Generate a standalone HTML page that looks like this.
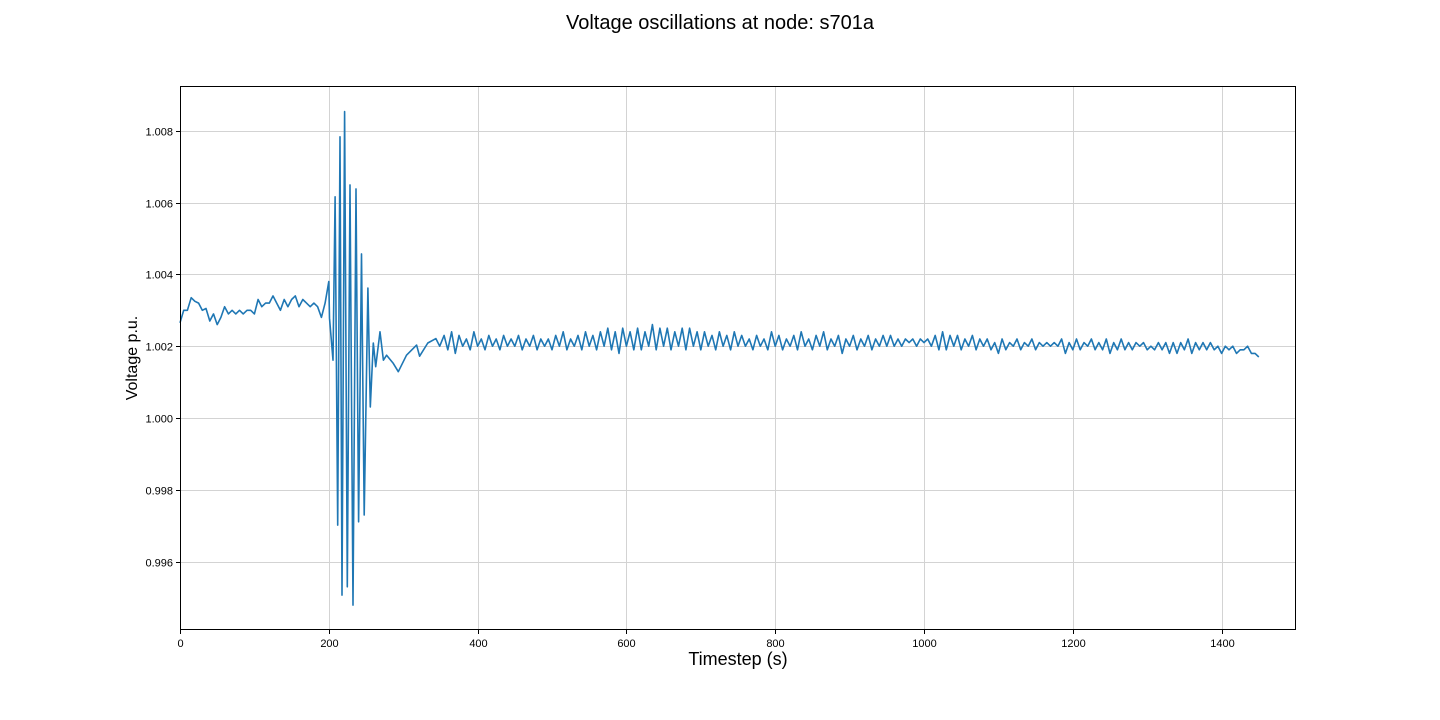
<!DOCTYPE html>
<html><head><meta charset="utf-8">
<style>
html,body{margin:0;padding:0;background:#fff;}
svg{display:block;font-family:"Liberation Sans","DejaVu Sans",sans-serif;}
</style></head>
<body>
<svg id="chart" width="1440" height="720" viewBox="0 0 1440 720" xmlns="http://www.w3.org/2000/svg">
<rect width="1440" height="720" fill="#fff"/>
<text x="720" y="29" text-anchor="middle" font-size="20">Voltage oscillations at node: s701a</text>
<g id="grid"></g>
<g id="xticks"></g>
<g id="yticks"></g>
<g id="series"></g>
<rect x="180.5" y="86.5" width="1115" height="543" fill="none" stroke="#000" stroke-width="1"/>
<text x="738" y="665" text-anchor="middle" font-size="18">Timestep (s)</text>
<text x="137" y="358" text-anchor="middle" font-size="16" transform="rotate(-90 137 358)">Voltage p.u.</text>
</svg>
<script>
const xTicks=[0,200,400,600,800,1000,1200,1400];
const yTicks=[0.996,0.998,1.000,1.002,1.004,1.006,1.008];
const preTimes=[0,5,10,15,20,25,30,35,40,45,50,55,60,65,70,75,80,85,90,95,100,105,110,115,120,125,130,135,140,145,150,155,160,165,170,175,180,185,190,195];
const preVolts=[1.00265,1.0030,1.0030,1.00335,1.00325,1.0032,1.0030,1.00305,1.0027,1.0029,1.0026,1.0028,1.0031,1.0029,1.0030,1.0029,1.0030,1.0029,1.0030,1.0030,1.0029,1.0033,1.0031,1.0032,1.0032,1.0034,1.0032,1.0030,1.0033,1.0031,1.0033,1.0034,1.0031,1.0033,1.0032,1.0031,1.0032,1.0031,1.0028,1.0032];
const eventTimes=[200,201,205.6,208.5,212,215,217.7,221.3,224.9,228.5,232.5,236.6,240,244,247.6,252.6,255.8,259.8,263,268.8,273.4,277.7,286.7,293.4,304.4,318,322,333,344,349];
const eventVolts=[1.0038,1.00278,1.00161,1.00616,0.99702,1.00783,0.99507,1.00853,0.9953,1.00649,0.99479,1.00638,0.99711,1.00457,0.9973,1.00362,1.00031,1.00209,1.00143,1.0024,1.00161,1.00175,1.00152,1.00129,1.00175,1.00203,1.00172,1.00209,1.00221,1.002];
const postStart=355, postStep=5;
const postVolts=[
1.0023,1.0019,1.0024,1.0018,1.0023,1.0020,1.0022,1.0019,1.0024,1.0020,1.0022,1.0019,1.0023,1.0020,1.0022,1.0019,1.0023,1.0020,1.0022,1.0020,
1.0023,1.0019,1.0022,1.0020,1.0023,1.0019,1.0022,1.0020,1.0022,1.0019,1.0023,1.0020,1.0024,1.0019,1.0022,1.0020,1.0023,1.0019,1.0024,1.0020,
1.0023,1.0019,1.0024,1.0020,1.0025,1.0019,1.0024,1.0018,1.0025,1.0020,1.0024,1.0019,1.0025,1.0019,1.0024,1.0020,1.0026,1.0019,1.0025,1.0020,
1.0025,1.0019,1.0024,1.0020,1.0025,1.0019,1.0025,1.0020,1.0024,1.0019,1.0024,1.0020,1.0023,1.0019,1.0024,1.0020,1.0023,1.0019,1.0024,1.0020,
1.0023,1.0020,1.0022,1.0019,1.0023,1.0020,1.0022,1.0019,1.0024,1.0020,1.0023,1.0019,1.0022,1.0020,1.0023,1.0019,1.0024,1.0020,1.0022,1.0019,
1.0023,1.0020,1.0024,1.0019,1.0022,1.0020,1.0023,1.0018,1.0022,1.0020,1.0023,1.0019,1.0022,1.0020,1.0023,1.0019,1.0022,1.0020,1.0023,1.0020,
1.0023,1.0020,1.0022,1.0020,1.0022,1.0021,1.0022,1.0020,1.0022,1.0021,1.0022,1.0020,1.0023,1.0019,1.0024,1.0019,1.0023,1.0020,1.0023,1.0019,
1.0022,1.0020,1.0023,1.0019,1.0022,1.0020,1.0022,1.0019,1.0021,1.0018,1.0022,1.0019,1.0021,1.0020,1.0022,1.0019,1.0021,1.0020,1.0022,1.0019,
1.0021,1.0020,1.0021,1.0020,1.0021,1.0020,1.0022,1.0018,1.0021,1.0019,1.0022,1.0019,1.0021,1.0020,1.0022,1.0019,1.0021,1.0019,1.0022,1.0018,
1.0021,1.0019,1.0022,1.0019,1.0021,1.0019,1.0021,1.0020,1.0021,1.0019,1.0020,1.0019,1.0021,1.0019,1.0021,1.0018,1.0021,1.0018,1.0021,1.0019,
1.0022,1.0018,1.0021,1.0019,1.0021,1.0019,1.0021,1.0019,1.0020,1.0018,1.0020,1.0019,1.0020,1.0018,1.0019,1.0019,1.0020,1.0018,1.0018,1.0017];

const X0=180,X1=1296,Y0=86,Y1=630,XMIN=0,XMAX=1500,YMIN=0.994098,YMAX=1.009244;
function xs(t){return X0+(t-XMIN)/(XMAX-XMIN)*(X1-X0);}
function ys(v){return Y1-(v-YMIN)/(YMAX-YMIN)*(Y1-Y0);}
const NS="http://www.w3.org/2000/svg";
function mk(tag,attrs,parent){const e=document.createElementNS(NS,tag);for(const k in attrs)e.setAttribute(k,attrs[k]);parent.appendChild(e);return e;}
const grid=document.getElementById('grid'),gx=document.getElementById('xticks'),gy=document.getElementById('yticks');
xTicks.forEach(t=>{const x=Math.round(xs(t))+0.5;
 const l=mk('line',{x1:x,x2:x,y1:Y0,y2:Y1,stroke:'#d3d3d3','stroke-width':1},grid);
 
 
 mk('line',{x1:x,x2:x,y1:Y1,y2:Y1+4,stroke:'#000'},gx);
 const tx=mk('text',{x:x,y:Y1+17,'text-anchor':'middle','font-size':11},gx);tx.textContent=t;
 
 
});
yTicks.forEach(v=>{const y=Math.round(ys(v))+0.5;
 const l=mk('line',{x1:X0,x2:X1,y1:y,y2:y,stroke:'#d3d3d3','stroke-width':1},grid);
 
 
 mk('line',{x1:X0-4,x2:X0,y1:y,y2:y,stroke:'#000'},gy);
 const tx=mk('text',{x:X0-7,y:y+4,'text-anchor':'end','font-size':11},gy);tx.textContent=v.toFixed(3);
 
 
});
const times=preTimes.concat(eventTimes),volts=preVolts.concat(eventVolts);
postVolts.forEach((v,i)=>{times.push(postStart+i*postStep);volts.push(v);});
let d='';times.forEach((t,i)=>{d+=(i?'L':'M')+xs(t).toFixed(1)+','+ys(volts[i]).toFixed(1);});
const p=mk('path',{d:d,fill:'none',stroke:'#1f77b4','stroke-width':1.6,'stroke-linejoin':'round'},document.getElementById('series'));


</script>
</body></html>
